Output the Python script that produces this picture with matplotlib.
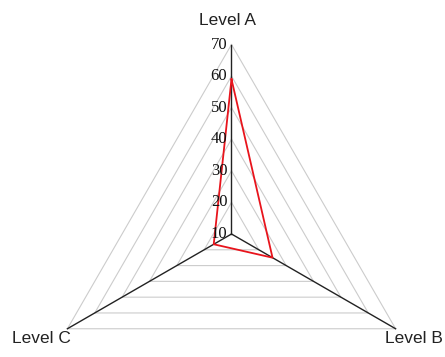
import numpy as np
import matplotlib
matplotlib.use('Agg')
import matplotlib.pyplot as plt

# Data
categories = ['Level A', 'Level B', 'Level C']
values = [59, 25, 16.5]
levels = [10, 20, 30, 40, 50, 60, 70]
r_min, r_max = 10, 70


# Converts (axis index, value) into x/y on the plot
def to_xy(idx, val):
    ang = np.deg2rad(90 - 120 * np.asarray(idx))
    r = np.asarray(val, dtype=float) - r_min
    return r * np.cos(ang), r * np.sin(ang)


fig = plt.figure(figsize=(4.45, 3.57), dpi=100)
ax = fig.add_axes([0, 0, 1, 1])
ax.axis('off')

# pixels per value unit: 70 sits ~189.5 px from the centre
ppu = 189.5 / (r_max - r_min)
cx, cy = 231.5, 234
ax.set_xlim(-cx / ppu, (445 - cx) / ppu)
ax.set_ylim(-(357 - cy) / ppu, cy / ppu)

n = len(categories)
idx_closed = list(range(n)) + [0]

# triangular grid
for lv in levels[1:]:
    gx, gy = to_xy(idx_closed, [lv] * (n + 1))
    ax.plot(gx, gy, color='#cccccc', lw=0.8, zorder=1)

# spokes
for i in range(n):
    sx, sy = to_xy([i, i], [r_min, r_max])
    ax.plot(sx, sy, color='#222222', lw=1.0, zorder=2)

# tick labels along axis A
for lv in levels:
    tx, ty = to_xy(0, lv)
    ax.annotate(str(lv), (tx, ty), xytext=(-3, 0), textcoords='offset points',
                ha='right', va='center', fontsize=12,
                family='Liberation Serif', color='#111111', zorder=4)

# category labels
offsets = [(-3, 17), (13, -7), (-19, -7)]
for i, name in enumerate(categories):
    lx, ly = to_xy(i, r_max)
    ax.annotate(name, (lx, ly), xytext=offsets[i], textcoords='offset points',
                ha='center', va='center', fontsize=12.5,
                family='Liberation Sans', color='#222222')

# data polygon
px, py = to_xy(idx_closed, values + [values[0]])
ax.plot(px, py, color='#e8141c', lw=1.3, zorder=3)

plt.savefig('out.png', dpi=100)
